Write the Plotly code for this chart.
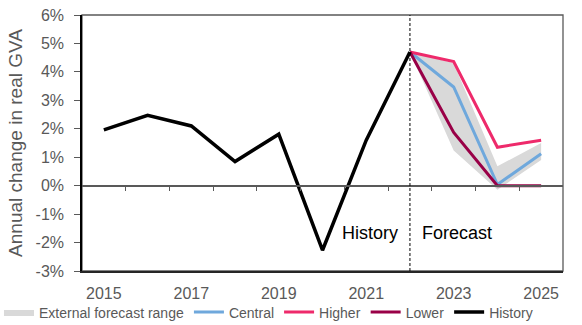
import plotly.graph_objects as go

# ---- data ----
history_years = [2015, 2016, 2017, 2018, 2019, 2020, 2021, 2022]
history_vals = [1.96, 2.47, 2.1, 0.85, 1.81, -2.27, 1.6, 4.7]

forecast_years = [2022, 2023, 2024, 2025]
central_vals = [4.7, 3.47, 0.04, 1.12]
higher_vals = [4.7, 4.36, 1.35, 1.6]
lower_vals = [4.7, 1.87, 0.0, 0.0]
range_upper = [4.7, 4.3, 0.68, 1.5]
range_lower = [4.7, 1.24, -0.14, 0.9]

FORECAST_START = 2022
x_label_years = [2015, 2017, 2019, 2021, 2023, 2025]
x_boundaries = [y + 0.5 for y in range(2015, 2025)]
y_ticks = [-3, -2, -1, 0, 1, 2, 3, 4, 5, 6]
y_tick_labels = [f"{v}%" for v in y_ticks]

GREY = "#595959"
FONT = "Liberation Sans, Arial, sans-serif"

fig = go.Figure()

fig.add_trace(go.Scatter(x=forecast_years, y=range_lower, mode="lines",
                         line=dict(width=0, color="#D9D9D9"), showlegend=False,
                         hoverinfo="skip"))
fig.add_trace(go.Scatter(x=forecast_years, y=range_upper, mode="lines",
                         line=dict(width=0, color="#D9D9D9"), fill="tonexty",
                         fillcolor="#D9D9D9", name="External forecast range"))
fig.add_trace(go.Scatter(x=forecast_years, y=central_vals, mode="lines",
                         line=dict(width=3, color="#6FA8DC"), name="Central"))
fig.add_trace(go.Scatter(x=forecast_years, y=higher_vals, mode="lines",
                         line=dict(width=3, color="#EE2A6B"), name="Higher"))
fig.add_trace(go.Scatter(x=forecast_years, y=lower_vals, mode="lines",
                         line=dict(width=3, color="#990047"), name="Lower"))
fig.add_trace(go.Scatter(x=history_years, y=history_vals, mode="lines",
                         line=dict(width=3.5, color="#000000"), name="History"))

# secondary x axis: the zero line with category boundary ticks
fig.add_trace(go.Scatter(x=[2015], y=[0], xaxis="x2", mode="markers",
                         marker=dict(opacity=0), showlegend=False, hoverinfo="skip"))

fig.add_shape(type="line", x0=FORECAST_START, x1=FORECAST_START, y0=-3, y1=6.08,
              xref="x", yref="y", line=dict(color="#000000", width=1, dash="3px,2px"))
fig.add_shape(type="rect", xref="paper", yref="paper", x0=0, x1=1, y0=0, y1=1,
              line=dict(color=GREY, width=1.3), layer="below")

fig.add_annotation(x=FORECAST_START, y=-1.65, text="History", showarrow=False,
                   xanchor="right", xshift=-10, font=dict(size=18, color="#000", family=FONT))
fig.add_annotation(x=FORECAST_START, y=-1.65, text="Forecast", showarrow=False,
                   xanchor="left", xshift=10, font=dict(size=18, color="#000", family=FONT))

fig.update_layout(
    width=582, height=325,
    margin=dict(l=82, r=19, t=15, b=53.5, autoexpand=False),
    paper_bgcolor="white", plot_bgcolor="white",
    font=dict(family=FONT, color=GREY, size=15),
    xaxis=dict(range=[2014.5, 2025.5], tickvals=x_label_years,
               ticktext=[str(v) for v in x_label_years], ticks="", showgrid=False,
               zeroline=False, showline=True, linecolor="#262626", linewidth=1.5,
               tickfont=dict(size=16, color=GREY), automargin=False,
               ticklabelstandoff=7),
    xaxis2=dict(range=[2014.5, 2025.5], overlaying="x", anchor="free", position=1/3,
                tickvals=x_boundaries, showticklabels=False, ticks="outside", ticklen=5,
                tickcolor=GREY, tickwidth=1.3, showgrid=False, zeroline=False,
                showline=True, linecolor=GREY, linewidth=1.5, automargin=False),
    yaxis=dict(range=[-3, 6], tickvals=y_ticks, ticktext=y_tick_labels, ticks="outside",
               ticklen=6, tickcolor=GREY, tickwidth=1.3, showgrid=False, zeroline=False,
               showline=True, linecolor="#000000", linewidth=1.5,
               tickfont=dict(size=16, color=GREY), automargin=False,
               ticklabelstandoff=7,
               title=dict(text="Annual change in real GVA", font=dict(size=19, color=GREY),
                          standoff=8)),
    legend=dict(orientation="h", x=-0.1726, xanchor="left", y=-0.162, yanchor="middle",
                font=dict(size=14, color=GREY), itemwidth=30, tracegroupgap=0,
                traceorder="normal", bgcolor="rgba(0,0,0,0)"),
    showlegend=True,
)

fig.write_html("out.html", config={"displayModeBar": False},
               post_script="document.body.style.margin='0';")
